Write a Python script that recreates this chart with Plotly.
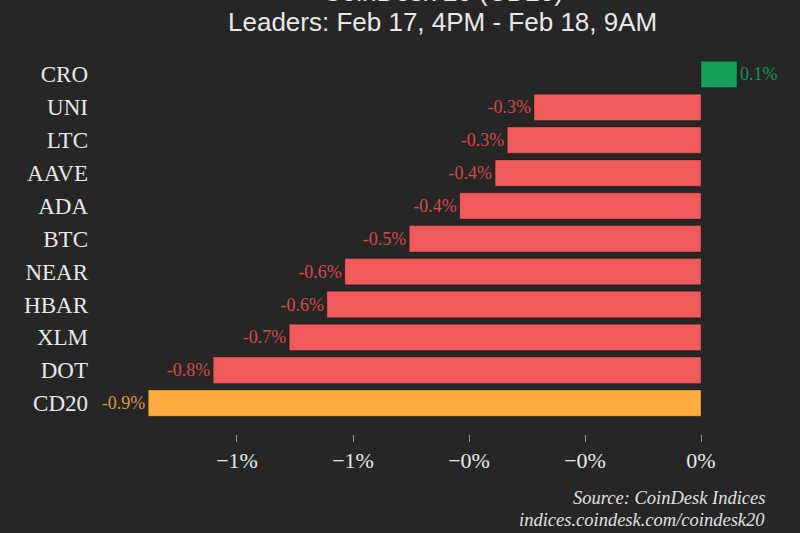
import plotly.graph_objects as go

categories = ["CRO", "UNI", "LTC", "AAVE", "ADA", "BTC", "NEAR", "HBAR", "XLM", "DOT", "CD20"]
values = [0.062, -0.288, -0.334, -0.355, -0.416, -0.503, -0.614, -0.645, -0.710, -0.841, -0.953]
labels = ["0.1%", "-0.3%", "-0.3%", "-0.4%", "-0.4%", "-0.5%", "-0.6%", "-0.6%", "-0.7%", "-0.8%", "-0.9%"]
tick_vals = [-0.8, -0.6, -0.4, -0.2, 0.0]
tick_text = ["\u22121%", "\u22121%", "\u22120%", "\u22120%", "0%"]

BG = "#262626"
RED, RED_T = "#F05A5A", "#D24C4C"
GREEN, GREEN_T = "#15A05A", "#189457"
ORANGE, ORANGE_T = "#FFAB40", "#D49A3A"

colors = []
tcolors = []
for c, v in zip(categories, values):
    if c == "CD20":
        colors.append(ORANGE); tcolors.append(ORANGE_T)
    elif v >= 0:
        colors.append(GREEN); tcolors.append(GREEN_T)
    else:
        colors.append(RED); tcolors.append(RED_T)

fig = go.Figure(go.Bar(
    x=values, y=categories, orientation="h",
    marker=dict(color=colors, line=dict(color="rgba(0,0,0,0.25)", width=1)),
    text=labels, textposition="outside",
    textfont=dict(family="Liberation Serif", size=18, color=tcolors),
    cliponaxis=False, width=0.8,
))

fig.update_layout(
    width=800, height=533,
    paper_bgcolor=BG, plot_bgcolor=BG,
    margin=dict(l=95, r=10, t=58, b=99),
    showlegend=False,
    font=dict(family="Liberation Serif", color="#e8e8e8"),
    xaxis=dict(range=[-1.0448, 0.1534], tickvals=tick_vals, ticktext=tick_text,
               showgrid=False, zeroline=False, showline=False,
               ticks="outside", ticklen=7, tickcolor="#9a9a9a", tickwidth=1,
               tickfont=dict(family="Liberation Serif", size=22, color="#e8e8e8")),
    yaxis=dict(categoryorder="array", categoryarray=categories,
               range=[10.94, -0.5], showgrid=False, zeroline=False, showline=False,
               ticks="", ticklabelstandoff=6,
               tickfont=dict(family="Liberation Serif", size=23, color="#e8e8e8")),
    annotations=[
        dict(text="CoinDesk 20 (CD20)", xref="paper", yref="paper", x=0.5, y=(434 + 8) / 376,
             yanchor="middle", showarrow=False,
             font=dict(family="Liberation Sans", size=26, color="#e8e8e8")),
        dict(text="Leaders: Feb 17, 4PM - Feb 18, 9AM", xref="paper", yref="paper", x=0.5,
             y=(434 - 22) / 376, yanchor="middle", showarrow=False,
             font=dict(family="Liberation Sans", size=26, color="#e8e8e8")),
        dict(text="<i>Source: CoinDesk Indices</i>", xref="paper", yref="paper",
             x=(767 - 95) / 695, y=(434 - 498) / 376, xanchor="right", yanchor="middle",
             showarrow=False, font=dict(family="Liberation Serif", size=18.5, color="#e0e0e0")),
        dict(text="<i>indices.coindesk.com/coindesk20</i>", xref="paper", yref="paper",
             x=(767 - 95) / 695, y=(434 - 520) / 376, xanchor="right", yanchor="middle",
             showarrow=False, font=dict(family="Liberation Serif", size=18.5, color="#e0e0e0")),
    ],
)

fig.write_html("out.html", config={"displayModeBar": False},
               post_script="document.body.style.margin='0';document.body.style.background='#262626';")
